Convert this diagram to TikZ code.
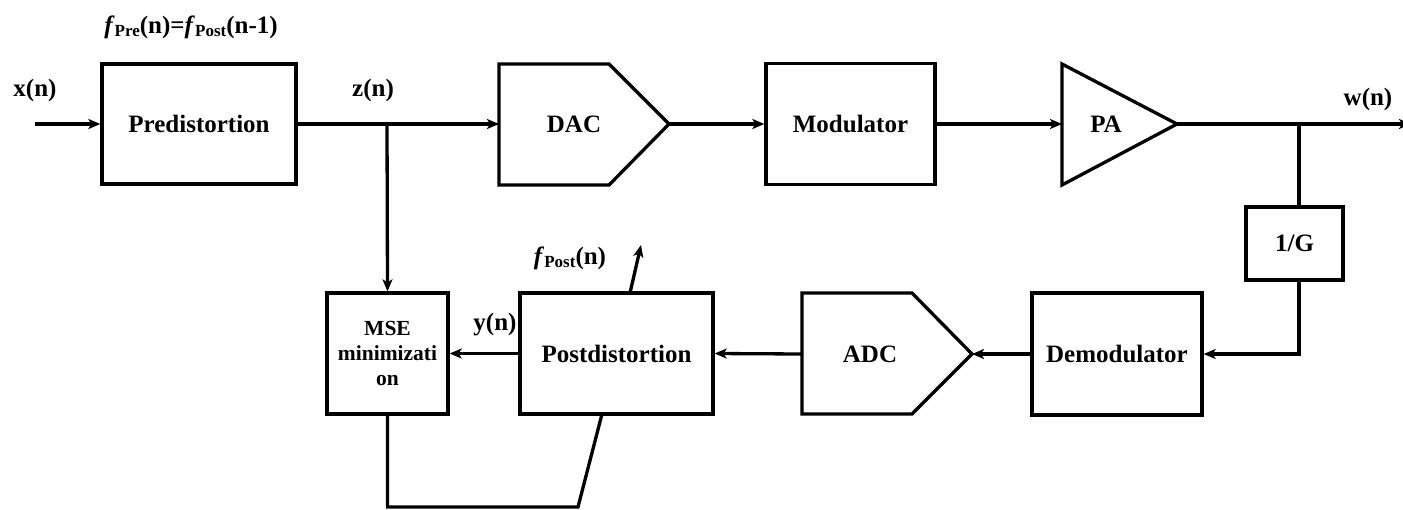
\documentclass[tikz,border=0pt]{standalone}
\usepackage{fontspec}
\setmainfont{Liberation Serif}
\usetikzlibrary{arrows.meta,calc}
\newcommand{\fsub}[1]{\raisebox{-3pt}{\fontsize{17}{17}\selectfont #1}}
\begin{document}
\begin{tikzpicture}[x=1pt,y=-1pt, line width=3.3pt,
  blk/.style={draw, rectangle, inner sep=0pt, font=\bfseries\fontsize{25}{28}\selectfont},
  lbl/.style={font=\bfseries\fontsize{25}{28}\selectfont, inner sep=0pt},
  arr/.style={-{Stealth[length=12pt,width=10pt,inset=3pt]}}]
\useasboundingbox (0,0) rectangle (1403,509);
% top row
\coordinate (xin) at (35,124);
\node[blk, minimum width=194pt, minimum height=120pt] (pre) at (199,124) {Predistortion};
\draw[line join=miter] (499,64) -- (609,64) -- (669,124) -- (609,185) -- (499,185) -- cycle;
\node[lbl] (dac) at (574,124) {DAC};
\coordinate (dacin) at (499,124);
\coordinate (dacout) at (669,124);
\node[blk, minimum width=169pt, minimum height=121pt] (mod) at (850.5,124) {Modulator};
\draw[line join=miter] (1062,64) -- (1177,124) -- (1062,185) -- cycle;
\node[lbl] (pa) at (1106,124) {PA};
\coordinate (pain) at (1062,124);
\coordinate (paout) at (1177,124);
\coordinate (zt) at (387,124);
\coordinate (wt) at (1299,124);
\coordinate (wout) at (1411,124);
% feedback row
\node[blk, minimum width=97pt, minimum height=73pt] (g) at (1294.5,243.5) {1/G};
\node[blk, minimum width=170pt, minimum height=122pt] (dem) at (1117,354) {Demodulator};
\draw[line join=miter] (802,293) -- (912,293) -- (972,354) -- (912,414) -- (802,414) -- cycle;
\node[lbl] (adc) at (870,354) {ADC};
\coordinate (adcin) at (972,354);
\coordinate (adcout) at (802,354);
\node[blk, minimum width=193pt, minimum height=121pt] (post) at (616.5,353.5) {Postdistortion};
\node[blk, minimum width=121pt, minimum height=121pt, align=center, font=\bfseries\fontsize{21.5}{25}\selectfont] (mse) at (387.5,353.5) {MSE\\minimizati\\on};
\coordinate (pt) at (630,293);
\coordinate (ptend) at (641,245);
\coordinate (pb) at (602,414);
\coordinate (b1) at (387.5,507);
\coordinate (b2) at (578,507);
% labels
\node[lbl] (lx) at (35,90) {x(n)};
\node[lbl] (lz) at (373,90) {z(n)};
\node[lbl] (lw) at (1368,99) {w(n)};
\node[lbl] (ly) at (495,325) {y(n)};
\node[lbl] (lfp) at (570,258) {\textit{f}\fsub{Post}(n)};
\node[lbl] (lfpre) at (191,27) {\textit{f}\fsub{Pre}(n)=\textit{f}\fsub{Post}(n-1)};
% connectors
\draw[arr] (xin) -- (pre.west);
\draw[arr] (pre.east) -- (dacin);
\draw[arr] (zt) -- (mse.north);
\draw[arr] (dacout) -- (mod.west);
\draw[arr] (mod.east) -- (pain);
\draw[arr] (paout) -- (wout);
\draw (wt) -- (wt |- g.north);
\draw[arr] (wt |- g.south) -- (wt |- dem.east) -- (dem.east);
\draw[arr] (dem.west) -- (adcin);
\draw[arr] (adcout) -- (post.east);
\draw[arr] (post.west) -- (mse.east);
\draw[arr] (pt) -- (ptend);
\draw[line join=miter] (mse.south) -- (b1) -- (b2) -- (pb);
\end{tikzpicture}
\end{document}
